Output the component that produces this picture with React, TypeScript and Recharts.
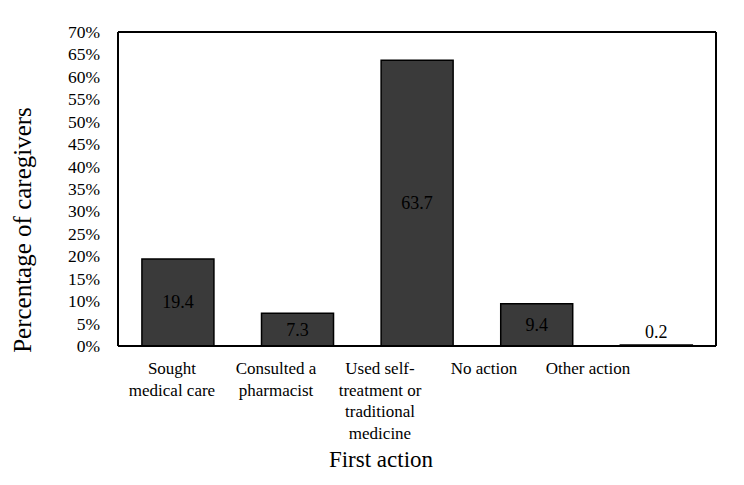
import React from "react";
import {
  BarChart,
  Bar,
  XAxis,
  YAxis,
  LabelList,
} from "recharts";

const categories = [
  "Sought\nmedical care",
  "Consulted a\npharmacist",
  "Used self-\ntreatment or\ntraditional\nmedicine",
  "No action",
  "Other action",
];
const percentages = [19.4, 7.3, 63.7, 9.4, 0.2];
const yTicks = [0, 5, 10, 15, 20, 25, 30, 35, 40, 45, 50, 55, 60, 65, 70];

const data = categories.map((c, i) => ({ action: c, pct: percentages[i] }));

const FONT = '"Liberation Serif", "Times New Roman", serif';
const txt = { fontFamily: FONT };

const XTick = (props: any) => {
  const { x, y, payload } = props;
  const lines = String(payload.value).split("\n");
  return (
    <text x={x} y={y} textAnchor="middle" fontSize={17} fill="#000" style={txt}>
      {lines.map((l, i) => (
        <tspan key={i} x={x} dy={i === 0 ? 27 : 21.7}>
          {l}
        </tspan>
      ))}
    </text>
  );
};

const YTick = (props: any) => {
  const { x, y, payload } = props;
  return (
    <text x={x} y={y} textAnchor="end" dominantBaseline="central" fontSize={17.5} fill="#000" style={txt}>
      {`${payload.value}%`}
    </text>
  );
};

const BarValue = (props: any) => {
  const { x, y, width, height, value } = props;
  const small = height < 20;
  const cy = small ? y - 13 : y + height / 2;
  return (
    <text
      x={x + width / 2}
      y={cy}
      textAnchor="middle"
      dominantBaseline="central"
      fontSize={18}
      fill="#000"
      style={txt}
    >
      {value}
    </text>
  );
};

export default function App() {
  return (
    <div style={{ position: "absolute", left: 0, top: 0, background: "#fff", fontFamily: FONT }}>
      <BarChart
        width={744}
        height={485}
        data={data}
        margin={{ top: 31, right: 27, left: 0, bottom: 0 }}
        barCategoryGap="20%"
      >
        {/* main axis: bars + bottom frame line */}
        <XAxis
          dataKey="action"
          height={1}
          tick={false}
          tickLine={false}
          axisLine={{ stroke: "#000", strokeWidth: 2 }}
        />
        {/* label axis, squeezed like the original */}
        <XAxis
          xAxisId="labels"
          dataKey="action"
          height={138}
          padding={{ left: 2, right: 76 }}
          axisLine={false}
          tickLine={false}
          tickSize={0}
          tickMargin={0}
          interval={0}
          tick={<XTick />}
          label={{
            content: (p: any) => {
              const vb = p.viewBox || { x: 118, y: 347, width: 598, height: 138 };
              return (
                <text
                  x={vb.x + vb.width / 2 - 36}
                  y={vb.y + 112}
                  textAnchor="middle"
                  dominantBaseline="central"
                  fontSize={23}
                  fill="#000"
                  style={txt}
                >
                  First action
                </text>
              );
            },
          }}
        />
        <XAxis
          xAxisId="top"
          orientation="top"
          dataKey="action"
          height={1}
          tick={false}
          tickLine={false}
          axisLine={{ stroke: "#000", strokeWidth: 2 }}
        />
        <YAxis
          width={118}
          domain={[0, 70]}
          ticks={yTicks}
          interval={0}
          tickLine={false}
          tickSize={0}
          tickMargin={18}
          tick={<YTick />}
          axisLine={{ stroke: "#000", strokeWidth: 2 }}
          label={{
            content: (p: any) => {
              const vb = p.viewBox || { x: 0, y: 32, width: 118, height: 314 };
              const cx = vb.x + 22;
              const cy = vb.y + vb.height / 2 + 41;
              return (
                <text
                  x={cx}
                  y={cy}
                  transform={`rotate(-90, ${cx}, ${cy})`}
                  textAnchor="middle"
                  dominantBaseline="central"
                  fontSize={25}
                  fill="#000"
                  style={txt}
                >
                  Percentage of caregivers
                </text>
              );
            },
          }}
        />
        <YAxis
          yAxisId="right"
          orientation="right"
          width={1}
          domain={[0, 70]}
          tick={false}
          tickLine={false}
          axisLine={{ stroke: "#000", strokeWidth: 2 }}
        />
        <Bar
          dataKey="pct"
          fill="#3a3a3a"
          stroke="#000"
          strokeWidth={1.5}
          isAnimationActive={false}
        >
          <LabelList dataKey="pct" content={<BarValue />} />
        </Bar>
      </BarChart>
    </div>
  );
}
